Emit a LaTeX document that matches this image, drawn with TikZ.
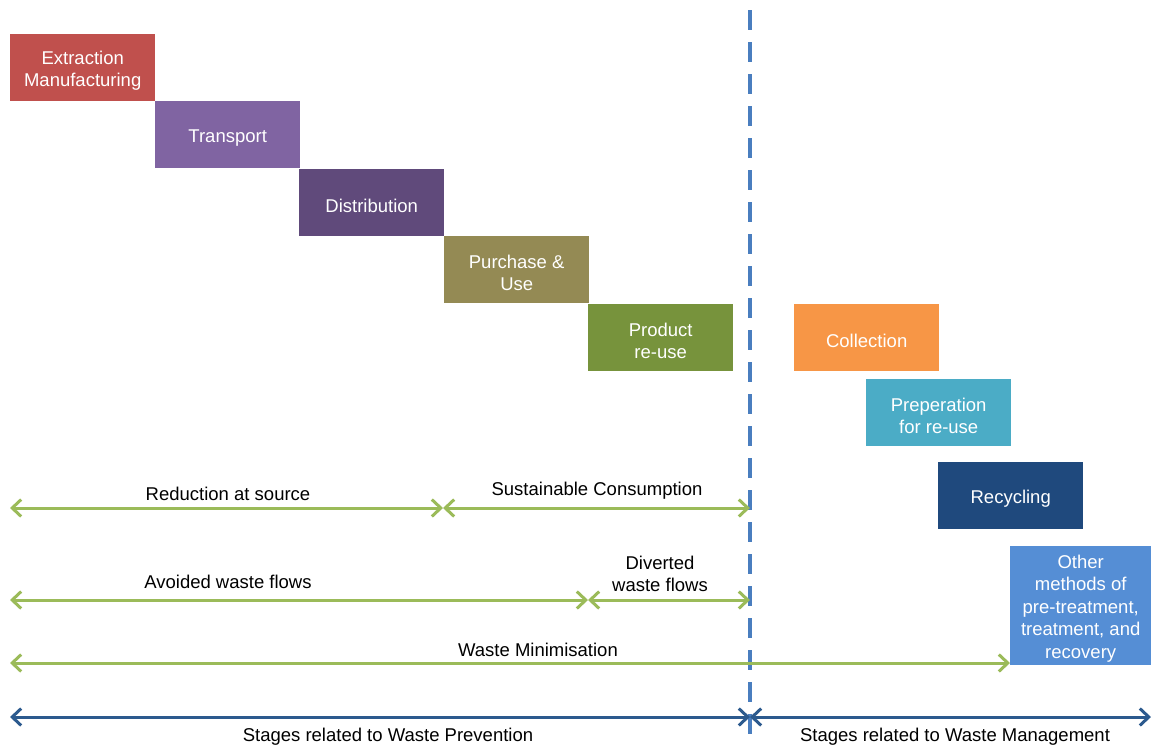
\documentclass[tikz,border=0pt]{standalone}
\usepackage{fontspec}
\setmainfont{Liberation Sans}
\usetikzlibrary{arrows.meta}
\definecolor{cRed}{HTML}{C0504D}
\definecolor{cPurple}{HTML}{8064A2}
\definecolor{cDPurple}{HTML}{604A7B}
\definecolor{cOlive}{HTML}{948A54}
\definecolor{cGreen}{HTML}{77933C}
\definecolor{cOrange}{HTML}{F79646}
\definecolor{cAqua}{HTML}{4BACC6}
\definecolor{cNavy}{HTML}{1F497D}
\definecolor{cBlue}{HTML}{558ED5}
\definecolor{cDash}{HTML}{4A7EBF}
\definecolor{cArrG}{HTML}{9BBB59}
\definecolor{cArrB}{HTML}{2C5A8E}
\tikzset{
  barbtip/.tip={Straight Barb[length=9pt,width=17pt,line width=3pt]},
  stagebox/.style={anchor=north west, minimum width=145pt, minimum height=67pt, inner sep=0pt},
  boxtext/.style={text=white, align=center, inner sep=1pt, yshift=-3pt, font=\fontsize{18.5}{22.5}\selectfont},
  lbl/.style={font=\fontsize{18.5}{22.5}\selectfont, align=center, text=black, inner sep=1pt},
  garrow/.style={draw=cArrG, line width=3pt, barbtip-barbtip},
  barrow/.style={draw=cArrB, line width=3pt, barbtip-barbtip},
}
\begin{document}
\begin{tikzpicture}[x=1pt,y=-1pt]
\useasboundingbox (0,0) rectangle (1151,745);
% dashed divider
\coordinate (dtop) at (750,10);
\coordinate (dbot) at (750,745);
\draw[cDash, line width=4.5pt, dash pattern=on 20pt off 12pt] (dtop) -- (dbot);
% boxes
\node[stagebox, fill=cRed] (ext) at (10,34) {};
\node[boxtext] (ext-t) at (ext.center) {Extraction\\Manufacturing};
\node[stagebox, fill=cPurple] (tra) at (155,101) {};
\node[boxtext] (tra-t) at (tra.center) {Transport};
\node[stagebox, fill=cDPurple] (dis) at (299,169) {};
\node[boxtext] (dis-t) at (dis.center) {Distribution};
\node[stagebox, fill=cOlive] (pur) at (444,236) {};
\node[boxtext] (pur-t) at (pur.center) {Purchase \&\\Use};
\node[stagebox, fill=cGreen] (pro) at (588,304) {};
\node[boxtext] (pro-t) at (pro.center) {Product\\re-use};
\node[stagebox, fill=cOrange] (col) at (794,304) {};
\node[boxtext] (col-t) at (col.center) {Collection};
\node[stagebox, fill=cAqua] (pre) at (866,379) {};
\node[boxtext] (pre-t) at (pre.center) {Preperation\\for re-use};
\node[stagebox, fill=cNavy] (rec) at (938,462) {};
\node[boxtext] (rec-t) at (rec.center) {Recycling};
\node[stagebox, fill=cBlue, minimum width=141pt, minimum height=119pt] (oth) at (1010,546) {};
\node[boxtext] (oth-t) at (oth.center) {Other\\methods of\\pre-treatment,\\treatment, and\\recovery};
% arrow end points
\coordinate (a1l) at (10,508);
\coordinate (a1m) at (443,508);
\coordinate (a1r) at (750,508);
\coordinate (a2l) at (10,600);
\coordinate (a2m) at (588,600);
\coordinate (a2r) at (750,600);
\coordinate (a3l) at (10,663);
\coordinate (a3r) at (oth.south west |- 0,663);
\coordinate (a4l) at (10,717);
\coordinate (a4m) at (750,717);
\coordinate (a4r) at (1151,717);
% green arrows
\draw[garrow] (a1l) -- (a1m);
\draw[garrow] (a1m) -- (a1r);
\draw[garrow] (a2l) -- (a2m);
\draw[garrow] (a2m) -- (a2r);
\draw[garrow] (a3l) -- (a3r);
% blue arrows
\draw[barrow] (a4l) -- (a4m);
\draw[barrow] (a4m) -- (a4r);
% labels
\node[lbl] (l1) at (228,494) {Reduction at source};
\node[lbl] (l2) at (597,491) {Sustainable Consumption};
\node[lbl] (l3) at (228,582) {Avoided waste flows};
\node[lbl] (l4) at (660,574) {Diverted\\waste flows};
\node[lbl] (l5) at (538,650) {Waste Minimisation};
\node[lbl] (l6) at (388,737) {Stages related to Waste Prevention};
\node[lbl] (l7) at (955,737) {Stages related to Waste Management};
\end{tikzpicture}
\end{document}
